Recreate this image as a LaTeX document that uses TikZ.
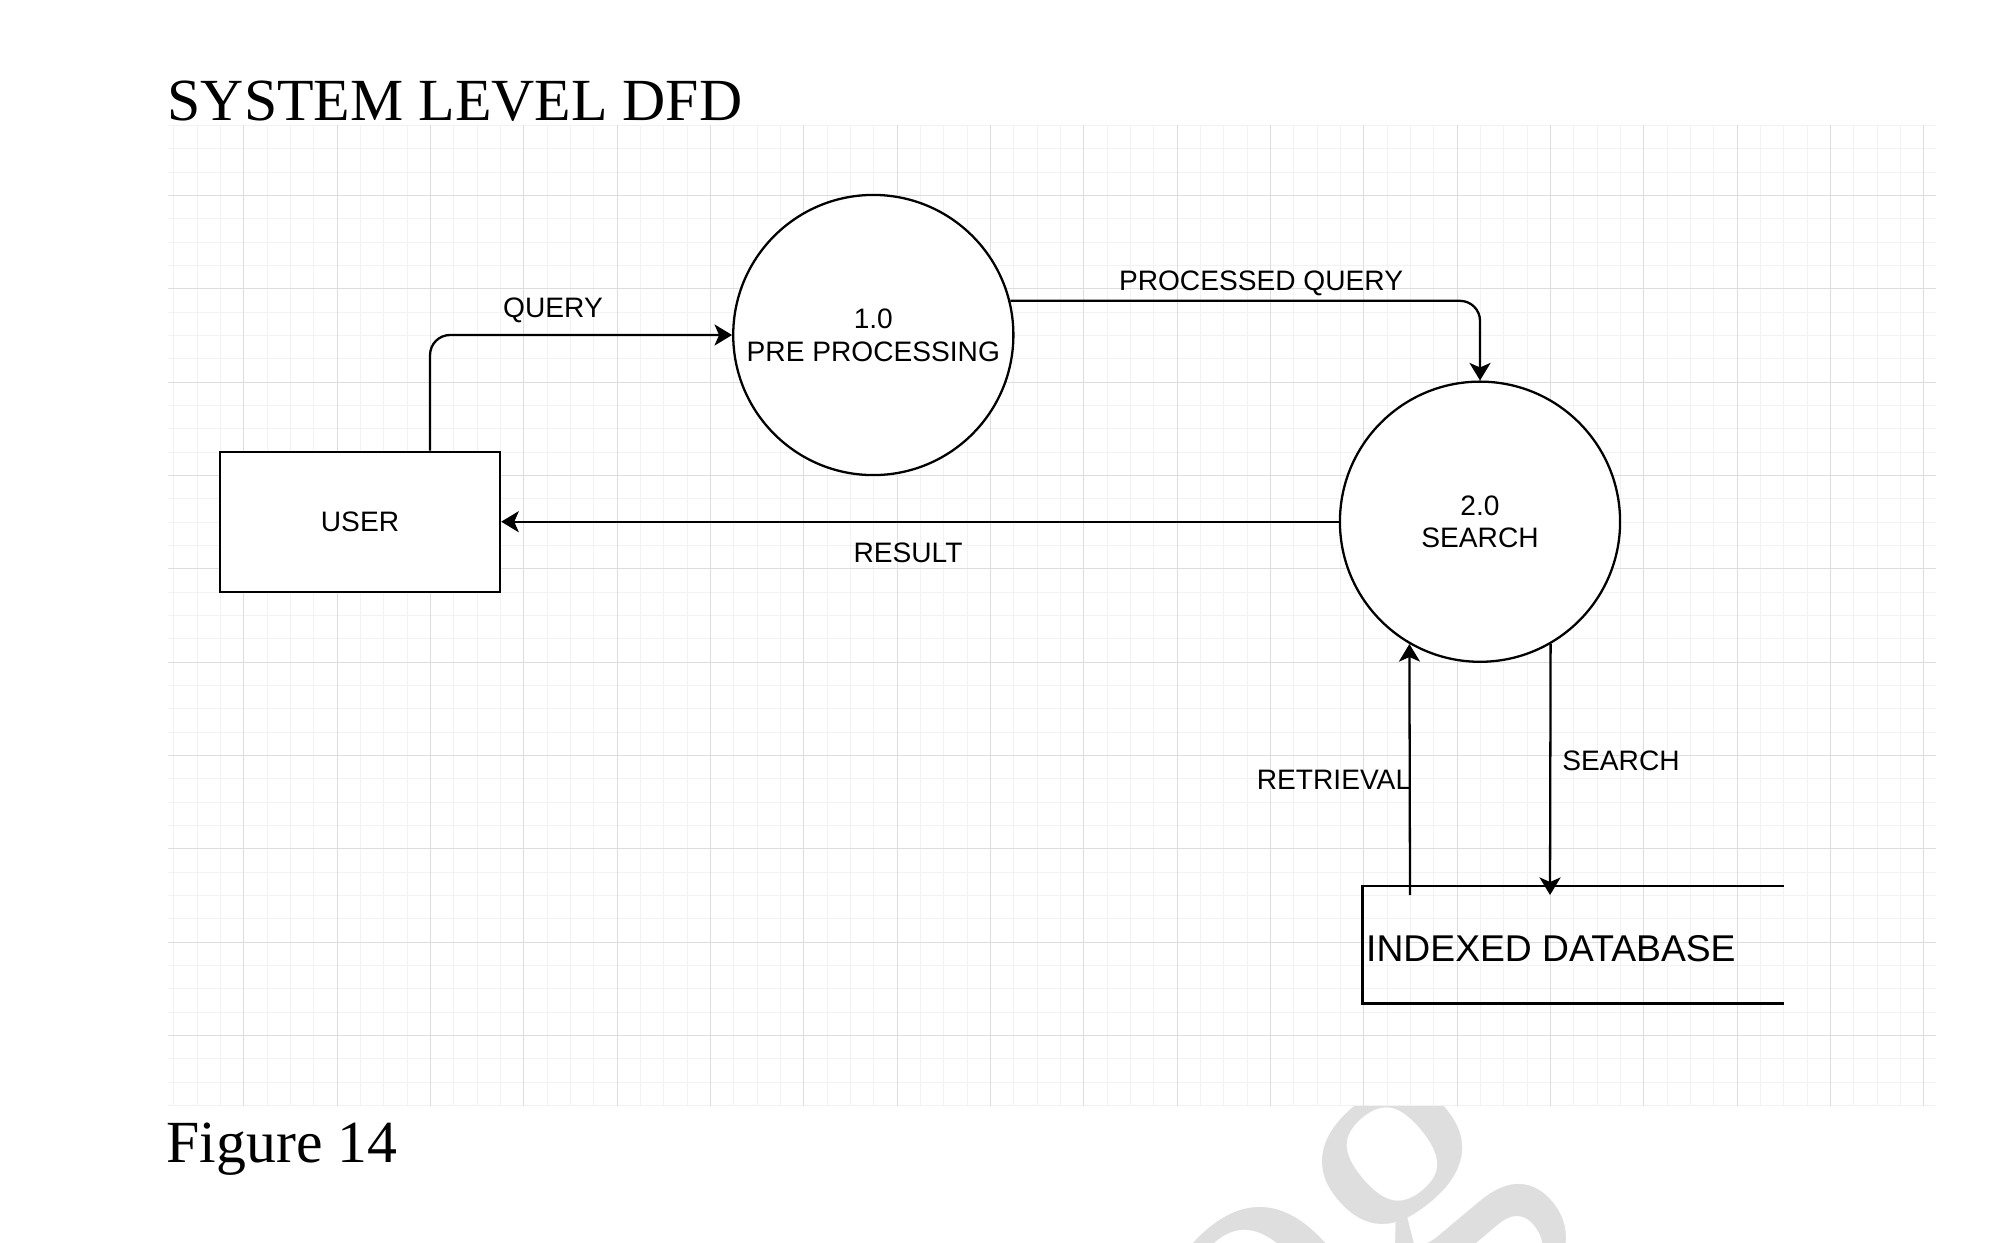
\documentclass[tikz,border=0pt]{standalone}
\usepackage{fontspec}
\setmainfont{Liberation Serif}
\newfontfamily\diafont{Liberation Sans}
\usetikzlibrary{arrows.meta}

\definecolor{minorgray}{HTML}{F2F2F2}
\definecolor{majorgray}{HTML}{DDDDDD}
\def\gridsep{23.3333}

\begin{document}
\begin{tikzpicture}[x=0.01cm,y=-0.01cm,>={Stealth[length=5pt,width=6pt,inset=1.3pt]}]
		\tikzstyle{minor line}=[minorgray,line width=0.015cm]
		\tikzstyle{major line}=[majorgray,line width=0.012cm]
		\tikzstyle{process}=[circle,draw,line width=0.65pt,fill=white,minimum size=2.8cm,inner sep=0pt,align=center,font=\diafont\fontsize{8}{9.3}\selectfont]
		\tikzstyle{entity}=[rectangle,draw,line width=0.65pt,fill=white,minimum width=2.8cm,minimum height=1.4cm,inner sep=0pt,font=\diafont\fontsize{8}{9.3}\selectfont]
		\tikzstyle{store}=[rectangle,minimum width=4.2cm,minimum height=1.16cm,inner sep=0pt]
		\tikzstyle{flow}=[->,line width=0.65pt,rounded corners=0.2cm]
		\tikzstyle{annot}=[inner sep=0pt,font=\diafont\fontsize{8}{9.3}\selectfont]
		\tikzstyle{caption}=[inner sep=0pt,anchor=base west,font=\fontsize{17}{20}\selectfont]
		
		\useasboundingbox (0,0) rectangle (2000,1242);
		
		% Watermark, mostly hidden by the grid
		\node[text=black!13,rotate=40,inner sep=0pt,font=\fontsize{110}{110}\selectfont] (mark) at (1362,1263) {og};
		
		% Draw the grid
		\fill[white] (168.3,125) rectangle (1936,1106);
		\foreach \i in {1,...,76}
		\draw[minor line] ({round(150+\gridsep*\i)+0.5},125) -- ({round(150+\gridsep*\i)+0.5},1106);
		\foreach \j in {1,...,43}
		\draw[minor line] (168.3,{round(101.67+\gridsep*\j)+0.5}) -- (1936,{round(101.67+\gridsep*\j)+0.5});
		\foreach \i in {4,8,...,76}
		\draw[major line] ({round(150+\gridsep*\i)+0.5},125) -- ({round(150+\gridsep*\i)+0.5},1106);
		\foreach \j in {4,8,...,40}
		\draw[major line] (168.3,{round(101.67+\gridsep*\j)+0.5}) -- (1936,{round(101.67+\gridsep*\j)+0.5});
		
		% Draw the entity, the processes and the data store
		\node[entity] (user) at (360,521.7) {USER};
		\node[process] (pre) at (873.3,335) {1.0\\PRE PROCESSING};
		\node[process] (search) at (1480,521.7) {2.0\\SEARCH};
		\node[store] (db) at (1573.3,944.7) {};
		\draw[line width=0.65pt] (db.north east) -- (db.north west) -- (db.south west) -- (db.south east);
		\node[anchor=west,inner sep=0pt,font=\diafont\fontsize{10.6}{12}\selectfont,yshift=-0.04cm] (db-text) at ([xshift=0.03cm]db.west) {INDEXED DATABASE};
		
		% Connect the nodes with the data flows
		\coordinate (db-up) at (1410,895);
		\coordinate (db-down) at (1550,895);
		\draw[flow] ([xshift=0.7cm]user.north) |- (pre.west);
		\draw[flow] (pre.14) -| (search.north);
		\draw[flow] (search.west) -- (user.east);
		\draw[flow] (db-up) -- (search.240);
		\draw[flow] (search.300) -- (db-down);
		
		% Annotate the flows
		\node[annot] (query) at (553,310.5) {QUERY};
		\node[annot] (processed) at (1261,283) {PROCESSED QUERY};
		\node[annot] (result) at (908,553) {RESULT};
		\node[annot] (retrieval) at (1334,779.5) {RETRIEVAL};
		\node[annot] (searching) at (1621,761) {SEARCH};
		
		% Title and caption
		\node[caption] (title) at (167,120) {SYSTEM LEVEL DFD};
		\node[caption] (figure) at (166,1162.3) {Figure 14};
\end{tikzpicture}
\end{document}
